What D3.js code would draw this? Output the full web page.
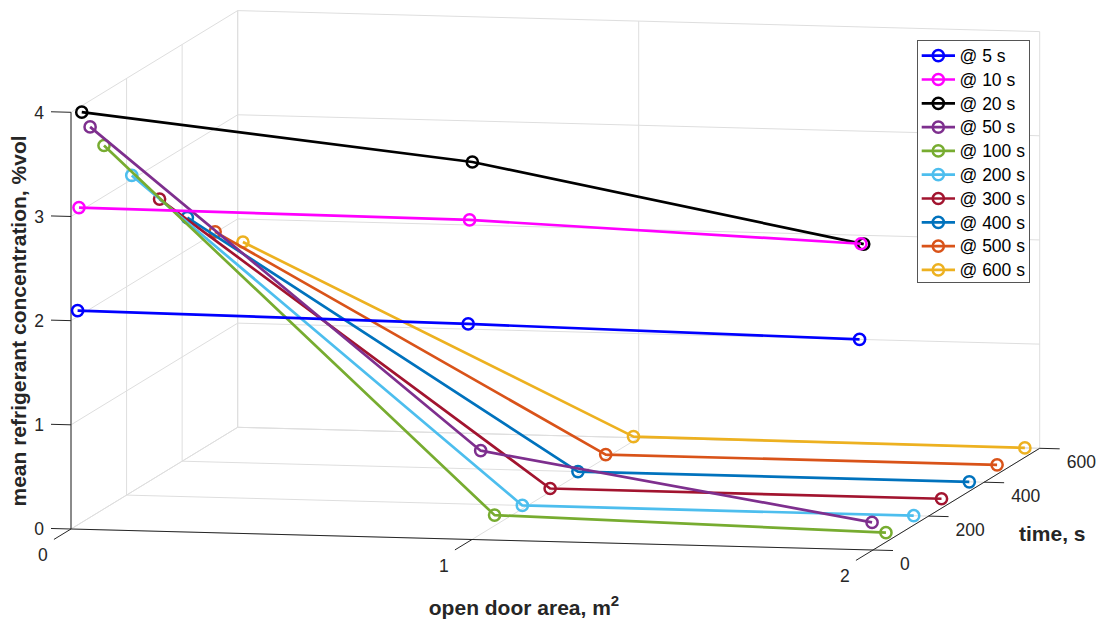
<!DOCTYPE html>
<html>
<head>
<meta charset="utf-8">
<script src="https://cdn.jsdelivr.net/npm/d3@7"></script>
<style>
  html, body { margin: 0; padding: 0; background: #fff; }
  svg { display: block; font-family: "Liberation Sans", Arial, sans-serif; }
</style>
</head>
<body>
<svg id="chart" width="1099" height="620"></svg>
<script>
// ---------- data ----------
const doorArea = [0.013, 0.987, 1.963];           // open door area, m^2 (plotted positions)
const seriesLabels = ["@ 5 s", "@ 10 s", "@ 20 s", "@ 50 s", "@ 100 s", "@ 200 s", "@ 300 s", "@ 400 s", "@ 500 s", "@ 600 s"];
const times = [5, 10, 20, 50, 100, 200, 300, 400, 500, 600];
const seriesColors = ["#0000FF", "#FF00FF", "#000000", "#7E2F8E", "#77AC30", "#4DBEEE", "#A2142F", "#0072BD", "#D95319", "#EDB120"];
// mean refrigerant concentration (%vol) at each door area
const conc5   = [2.09, 2.06, 2.01];
const conc10  = [3.07, 3.05, 2.92];
const conc20  = [3.97, 3.59, 2.90];
const conc50  = [3.78, 0.77, 0.18];
const conc100 = [3.52, 0.07, 0.00];
const conc200 = [3.07, 0.00, 0.00];
const conc300 = [2.68, 0.00, 0.00];
const conc400 = [2.34, 0.00, 0.00];
const conc500 = [2.04, 0.00, 0.00];
const conc600 = [1.78, 0.01, 0.00];
const concSeries = [conc5, conc10, conc20, conc50, conc100, conc200, conc300, conc400, conc500, conc600];

const xTicks = [0, 1, 2];
const yTicks = [0, 200, 400, 600];
const zTicks = [0, 1, 2, 3, 4];

// ---------- projection ----------
const svg = d3.select("#chart");
const sx = d3.scaleLinear().domain([0, 2]).range([0, 1]);
const sy = d3.scaleLinear().domain([0, 600]).range([0, 1]);
const sz = d3.scaleLinear().domain([0, 4]).range([0, 1]);
const O = [71, 529];
const EX = [802, 21], EY = [166.7, -101.7], EZ = [0, -416.7];
function P(x, t, z) {
  const a = sx(x), b = sy(t), c = sz(z);
  return [O[0] + a * EX[0] + b * EY[0] + c * EZ[0], O[1] + a * EX[1] + b * EY[1] + c * EZ[1]];
}
function unit(v) { const l = Math.hypot(v[0], v[1]); return [v[0] / l, v[1] / l]; }
const uX = unit(EX), uY = unit(EY);
const TL = 20;

const gridColor = "#dedede";
const axisColor = "#262626";

function seg(g, a, b, color, w) {
  g.append("line").attr("x1", a[0]).attr("y1", a[1]).attr("x2", b[0]).attr("y2", b[1])
    .attr("stroke", color).attr("stroke-width", w);
}

// ---------- grid ----------
const grid = svg.append("g");
xTicks.forEach(x => { seg(grid, P(x, 600, 0), P(x, 600, 4), gridColor, 1); seg(grid, P(x, 0, 0), P(x, 600, 0), gridColor, 1); });
zTicks.forEach(z => { seg(grid, P(0, 600, z), P(2, 600, z), gridColor, 1); seg(grid, P(0, 0, z), P(0, 600, z), gridColor, 1); });
yTicks.forEach(t => { seg(grid, P(0, t, 0), P(0, t, 4), gridColor, 1); seg(grid, P(0, t, 0), P(2, t, 0), gridColor, 1); });

// ---------- axes ----------
const ax = svg.append("g");
seg(ax, P(0, 0, 0), P(0, 0, 4), axisColor, 1);
seg(ax, P(0, 0, 0), P(2, 0, 0), axisColor, 1);
seg(ax, P(2, 0, 0), P(2, 600, 0), axisColor, 1);

const fs = 17.5;
zTicks.forEach(z => {
  const a = P(0, 0, z), b = [a[0] - uX[0] * TL, a[1] - uX[1] * TL];
  seg(ax, a, b, axisColor, 1);
  ax.append("text").attr("x", b[0] - 7).attr("y", b[1] + 7).attr("text-anchor", "end")
    .attr("font-size", fs).attr("fill", axisColor).text(z);
});
xTicks.forEach(x => {
  const a = P(x, 0, 0), b = [a[0] - uY[0] * TL, a[1] - uY[1] * TL];
  seg(ax, a, b, axisColor, 1);
  ax.append("text").attr("x", b[0] - 11).attr("y", b[1] + 22).attr("text-anchor", "middle")
    .attr("font-size", fs).attr("fill", axisColor).text(x);
});
yTicks.forEach(t => {
  const a = P(2, t, 0), b = [a[0] + uX[0] * TL, a[1] + uX[1] * TL];
  seg(ax, a, b, axisColor, 1);
  ax.append("text").attr("x", b[0] + 7).attr("y", b[1] + 19).attr("text-anchor", "start")
    .attr("font-size", fs).attr("fill", axisColor).text(t);
});

// axis labels
svg.append("text").attr("transform", "translate(26,321) rotate(-90)").attr("text-anchor", "middle")
  .attr("font-size", 21).attr("font-weight", "bold").attr("fill", axisColor)
  .text("mean refrigerant concentration, %vol");
const xl = svg.append("text").attr("x", 524).attr("y", 615).attr("text-anchor", "middle")
  .attr("font-size", 21).attr("font-weight", "bold").attr("fill", axisColor);
xl.append("tspan").text("open door area, m");
xl.append("tspan").attr("dy", -9).attr("font-size", 15).text("2");
svg.append("text").attr("x", 1019).attr("y", 541).attr("text-anchor", "start")
  .attr("font-size", 21).attr("font-weight", "bold").attr("fill", axisColor).text("time, s");

// ---------- data ----------
const plot = svg.append("g");
const line = d3.line();
d3.range(times.length).reverse().forEach(i => {
  const pts = doorArea.map((x, j) => P(x, times[i], concSeries[i][j]));
  plot.append("path").attr("d", line(pts)).attr("fill", "none")
    .attr("stroke", seriesColors[i]).attr("stroke-width", 2.7).attr("stroke-linejoin", "round");
  pts.forEach(p => plot.append("circle").attr("cx", p[0]).attr("cy", p[1]).attr("r", 5.6)
    .attr("fill", "none").attr("stroke", seriesColors[i]).attr("stroke-width", 2.5));
});

// ---------- legend ----------
const lg = svg.append("g");
lg.append("rect").attr("x", 917.5).attr("y", 40.5).attr("width", 112).attr("height", 242)
  .attr("fill", "#fff").attr("stroke", "#555").attr("stroke-width", 1);
seriesLabels.forEach((s, i) => {
  const y = 55.7 + i * 23.8;
  lg.append("line").attr("x1", 921.7).attr("x2", 955).attr("y1", y).attr("y2", y)
    .attr("stroke", seriesColors[i]).attr("stroke-width", 2.7);
  lg.append("circle").attr("cx", 938.3).attr("cy", y).attr("r", 5.6).attr("fill", "none")
    .attr("stroke", seriesColors[i]).attr("stroke-width", 2.5);
  lg.append("text").attr("x", 959.5).attr("y", y + 6.3).attr("font-size", fs).attr("fill", "#000").text(s);
});
</script>
</body>
</html>
